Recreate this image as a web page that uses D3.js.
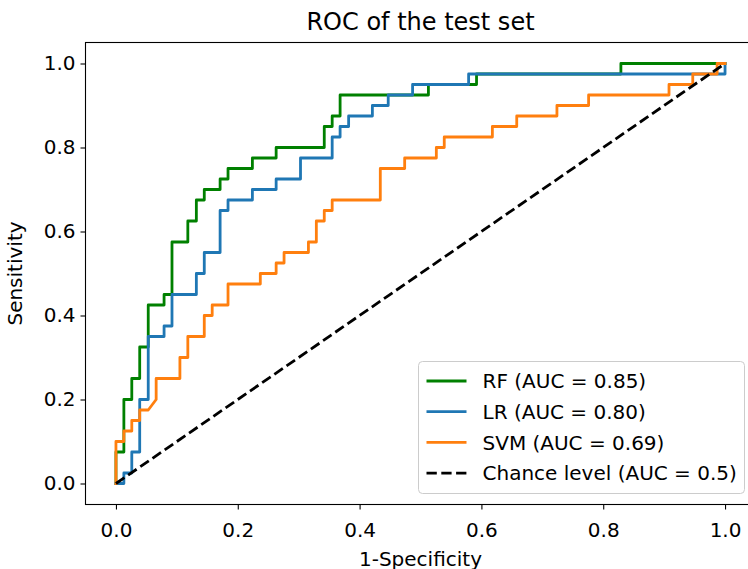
<!DOCTYPE html>
<html>
<head>
<meta charset="utf-8">
<script src="https://cdn.jsdelivr.net/npm/d3@7"></script>
<style>
  body { margin: 0; background: #fff; }
  svg { display: block; font-family: "DejaVu Sans", sans-serif; }
  .tick text { font-size: 20px; fill: #000; }
</style>
</head>
<body>
<svg></svg>
<script>
var width = 748,
    height = 569;

// plot area (right spine falls just outside the picture, as in the original)
var plotLeft = 85.5, plotRight = 755.5, plotTop = 42.5, plotBottom = 504.5;

// ROC corner points (false positive rate, true positive rate)
var rfFpr = [0, 0, 0.013, 0.013, 0.026, 0.026, 0.039, 0.039, 0.053, 0.053, 0.079, 0.079, 0.092, 0.092,
    0.118, 0.118, 0.132, 0.132, 0.145, 0.145, 0.171, 0.171, 0.184, 0.184, 0.224, 0.224, 0.263, 0.263,
    0.342, 0.342, 0.355, 0.355, 0.368, 0.368, 0.513, 0.513, 0.592, 0.592, 0.829, 0.829, 1];
var rfTpr = [0, 0.075, 0.075, 0.2, 0.2, 0.25, 0.25, 0.325, 0.325, 0.425, 0.425, 0.45, 0.45, 0.575,
    0.575, 0.625, 0.625, 0.675, 0.675, 0.7, 0.7, 0.725, 0.725, 0.75, 0.75, 0.775, 0.775, 0.8,
    0.8, 0.85, 0.85, 0.875, 0.875, 0.925, 0.925, 0.95, 0.95, 0.975, 0.975, 1, 1];

var lrFpr = [0, 0.013, 0.013, 0.026, 0.026, 0.039, 0.039, 0.053, 0.053, 0.079, 0.079, 0.092, 0.092,
    0.132, 0.132, 0.145, 0.145, 0.171, 0.171, 0.184, 0.184, 0.224, 0.224, 0.263, 0.263, 0.303, 0.303,
    0.355, 0.355, 0.368, 0.368, 0.382, 0.382, 0.421, 0.421, 0.447, 0.447, 0.487, 0.487, 0.579, 0.579, 1, 1];
var lrTpr = [0, 0, 0.025, 0.025, 0.075, 0.075, 0.2, 0.2, 0.35, 0.35, 0.375, 0.375, 0.45,
    0.45, 0.5, 0.5, 0.55, 0.55, 0.65, 0.65, 0.675, 0.675, 0.7, 0.7, 0.725, 0.725, 0.775,
    0.775, 0.825, 0.825, 0.85, 0.85, 0.875, 0.875, 0.9, 0.9, 0.925, 0.925, 0.95, 0.95, 0.975, 0.975, 1];

var svmFpr = [0, 0, 0.013, 0.013, 0.026, 0.026, 0.039, 0.039, 0.053, 0.066, 0.066, 0.105, 0.105,
    0.118, 0.118, 0.145, 0.145, 0.158, 0.158, 0.184, 0.184, 0.237, 0.237, 0.263, 0.263, 0.276, 0.276,
    0.316, 0.316, 0.329, 0.329, 0.342, 0.342, 0.355, 0.355, 0.434, 0.434, 0.474, 0.474, 0.526, 0.526,
    0.539, 0.539, 0.618, 0.618, 0.658, 0.658, 0.724, 0.724, 0.776, 0.776, 0.908, 0.908, 0.947, 0.947,
    0.987, 0.987, 1];
var svmTpr = [0, 0.1, 0.1, 0.125, 0.125, 0.15, 0.15, 0.175, 0.175, 0.2, 0.25, 0.25, 0.3,
    0.3, 0.35, 0.35, 0.4, 0.4, 0.425, 0.425, 0.475, 0.475, 0.5, 0.5, 0.525, 0.525, 0.55,
    0.55, 0.575, 0.575, 0.625, 0.625, 0.65, 0.65, 0.675, 0.675, 0.75, 0.75, 0.775, 0.775, 0.8,
    0.8, 0.825, 0.825, 0.85, 0.85, 0.875, 0.875, 0.9, 0.9, 0.925, 0.925, 0.95, 0.95, 0.975,
    0.975, 1, 1];

var chanceFpr = [0, 1];
var chanceTpr = [0, 1];

var seriesNames = ["RF (AUC = 0.85)", "LR (AUC = 0.80)", "SVM (AUC = 0.69)", "Chance level (AUC = 0.5)"];
var seriesColors = ["#008000", "#1f77b4", "#ff7f0e", "#000000"];

var tickValues = [0, 0.2, 0.4, 0.6, 0.8, 1.0];

var series = [
    { fpr: rfFpr, tpr: rfTpr },
    { fpr: lrFpr, tpr: lrTpr },
    { fpr: svmFpr, tpr: svmTpr },
    { fpr: chanceFpr, tpr: chanceTpr, dashed: true }
];
series.forEach(function (s, i) {
    s.name = seriesNames[i];
    s.color = seriesColors[i];
    s.points = s.fpr.map(function (v, j) { return [v, s.tpr[j]]; });
});

var svg = d3.select("svg")
    .attr("width", width)
    .attr("height", height);

var x = d3.scaleLinear().domain([-0.05, 1.05]).range([plotLeft, plotRight]);
var y = d3.scaleLinear().domain([-0.05, 1.05]).range([plotBottom, plotTop]);

var line = d3.line()
    .x(function (d) { return x(d[0]); })
    .y(function (d) { return y(d[1]); });

svg.append("g")
    .attr("class", "lines")
    .selectAll("path")
    .data(series)
    .enter()
    .append("path")
    .attr("d", function (d) { return line(d.points); })
    .attr("fill", "none")
    .attr("stroke", function (d) { return d.color; })
    .attr("stroke-width", 2.8)
    .attr("stroke-linejoin", "round")
    .attr("stroke-linecap", function (d) { return d.dashed ? "butt" : "square"; })
    .attr("stroke-dasharray", function (d) { return d.dashed ? "10.3,4.5" : null; });

// axes
var xAxis = d3.axisBottom(x).tickValues(tickValues).tickFormat(d3.format(".1f")).tickSize(5).tickPadding(13);
var yAxis = d3.axisLeft(y).tickValues(tickValues).tickFormat(d3.format(".1f")).tickSize(5).tickPadding(5);

svg.append("g")
    .attr("transform", "translate(0," + plotBottom + ")")
    .call(xAxis)
    .call(function (g) { g.select(".domain").remove(); });

svg.append("g")
    .attr("transform", "translate(" + plotLeft + ",0)")
    .call(yAxis)
    .call(function (g) { g.select(".domain").remove(); });

svg.selectAll(".tick line").attr("stroke", "#000").attr("stroke-width", 1.1);
svg.selectAll(".tick text").attr("font-family", "DejaVu Sans");

// spines
svg.append("rect")
    .attr("x", plotLeft).attr("y", plotTop)
    .attr("width", plotRight - plotLeft).attr("height", plotBottom - plotTop)
    .attr("fill", "none")
    .attr("stroke", "#000")
    .attr("stroke-width", 1.1);

// titles
svg.append("text")
    .attr("x", (plotLeft + plotRight) / 2)
    .attr("y", 30)
    .attr("text-anchor", "middle")
    .attr("font-size", 24)
    .text("ROC of the test set");

svg.append("text")
    .attr("x", (plotLeft + plotRight) / 2)
    .attr("y", 566)
    .attr("text-anchor", "middle")
    .attr("font-size", 20)
    .text("1-Specificity");

svg.append("text")
    .attr("transform", "translate(22," + (plotTop + plotBottom) / 2 + ") rotate(-90)")
    .attr("text-anchor", "middle")
    .attr("font-size", 20)
    .text("Sensitivity");

// legend
var legend = svg.append("g")
    .attr("class", "legend")
    .attr("transform", "translate(418.5,361.5)");

legend.append("rect")
    .attr("width", 326)
    .attr("height", 132)
    .attr("rx", 4)
    .attr("fill", "#fff")
    .attr("fill-opacity", 0.8)
    .attr("stroke", "#ccc")
    .attr("stroke-width", 1);

var item = legend.selectAll(".item")
    .data(series)
    .enter()
    .append("g")
    .attr("class", "item")
    .attr("transform", function (d, i) { return "translate(0," + (19.5 + i * 30.7) + ")"; });

item.append("line")
    .attr("x1", 8).attr("x2", 48)
    .attr("stroke", function (d) { return d.color; })
    .attr("stroke-width", 2.8)
    .attr("stroke-dasharray", function (d) { return d.dashed ? "10.3,4.5" : null; });

item.append("text")
    .attr("x", 64)
    .attr("y", 7.2)
    .attr("font-size", 20)
    .text(function (d) { return d.name; });
</script>
</body>
</html>
